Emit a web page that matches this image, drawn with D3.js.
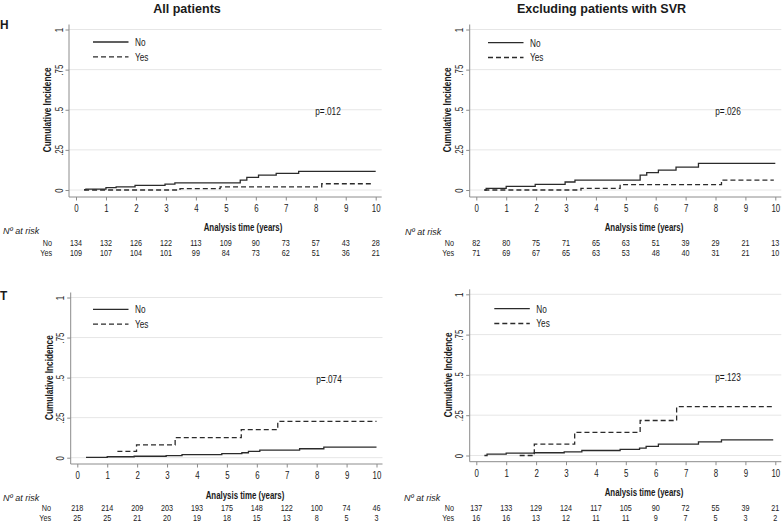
<!DOCTYPE html>
<html>
<head>
<meta charset="utf-8">
<script src="https://cdn.jsdelivr.net/npm/d3@7"></script>
<style>
  html, body { margin: 0; padding: 0; background: #fff; }
  svg { display: block; font-family: "Liberation Sans", Arial, sans-serif; }
</style>
</head>
<body>
<svg id="chart" width="784" height="523"></svg>
<script>
// ---------- DATA ----------
const timeTicks = [0, 1, 2, 3, 4, 5, 6, 7, 8, 9, 10];
const yTickValues = [0, 0.25, 0.5, 0.75, 1];
const yTickLabels = ["0", ".25", ".5", ".75", "1"];
const seriesNames = ["No", "Yes"];
const panelTitles = ["All patients", "Excluding patients with SVR"];
const rowLetters = ["H", "T"];
const pValues = ["p=.012", "p=.026", "p=.074", "p=.123"];

// Panel H, all patients
const hAllNoT  = [0.27, 0.33, 1.0, 1.34, 1.97, 2.97, 3.3, 5.48, 5.7, 6.09, 6.68, 7.43, 10];
const hAllNoV  = [0.002, 0.006, 0.015, 0.02, 0.029, 0.037, 0.045, 0.062, 0.079, 0.093, 0.104, 0.116, 0.116];
const hAllYesT = [0.27, 3.47, 4.81, 8.2, 9.9];
const hAllYesV = [0, 0.008, 0.019, 0.039, 0.039];
const hAllRiskNo  = [134, 132, 126, 122, 113, 109, 90, 73, 57, 43, 28];
const hAllRiskYes = [109, 107, 104, 101, 99, 84, 73, 62, 51, 36, 21];

// Panel H, excluding SVR
const hExNoT  = [0.27, 0.33, 1.0, 1.97, 2.97, 3.3, 5.48, 5.7, 6.09, 6.68, 7.43, 10];
const hExNoV  = [0, 0.010, 0.023, 0.035, 0.05, 0.062, 0.093, 0.108, 0.124, 0.143, 0.166, 0.166];
const hExYesT = [0.27, 3.5, 4.81, 8.2, 9.95];
const hExYesV = [0, 0.010, 0.033, 0.062, 0.062];
const hExRiskNo  = [82, 80, 75, 71, 65, 63, 51, 39, 29, 21, 13];
const hExRiskYes = [71, 69, 67, 65, 63, 53, 48, 40, 31, 21, 10];

// Panel T, all patients
const tAllNoT  = [0.29, 1.0, 1.9, 2.97, 3.5, 4.83, 5.5, 5.72, 6.1, 7.43, 8.24, 10];
const tAllNoV  = [0.002, 0.006, 0.009, 0.013, 0.019, 0.025, 0.031, 0.04, 0.047, 0.056, 0.066, 0.066];
const tAllYesT = [1.34, 1.98, 3.27, 5.48, 6.7, 10];
const tAllYesV = [0.04, 0.08, 0.125, 0.175, 0.227, 0.227];
const tAllRiskNo  = [218, 214, 209, 203, 193, 175, 148, 122, 100, 74, 46];
const tAllRiskYes = [25, 25, 21, 20, 19, 18, 15, 13, 8, 5, 3];

// Panel T, excluding SVR
const tExNoT  = [0.27, 0.36, 1.0, 1.94, 2.94, 3.53, 4.81, 5.46, 5.68, 6.09, 7.43, 8.2, 9.93];
const tExNoV  = [0, 0.008, 0.015, 0.017, 0.023, 0.031, 0.038, 0.046, 0.057, 0.071, 0.084, 0.097, 0.097];
const tExYesT = [1.45, 1.94, 3.29, 5.48, 6.7, 9.93];
const tExYesV = [0, 0.07, 0.144, 0.217, 0.303, 0.303];
const tExRiskNo  = [137, 133, 129, 124, 117, 105, 90, 72, 55, 39, 21];
const tExRiskYes = [16, 16, 13, 12, 11, 11, 9, 7, 5, 3, 2];

// ---------- LAYOUT ----------
const SX = 0.75; // horizontal text compression of the reference
const svg = d3.select("#chart");

const panels = [
  { x0: 76,    x10: 375.7, yZero: 190,   yOne: 29.5,  axisX: 69,    axisY: 197,
    noT: hAllNoT, noV: hAllNoV, yesT: hAllYesT, yesV: hAllYesV, rNo: hAllRiskNo, rYes: hAllRiskYes,
    p: pValues[0], pX: 328, pY: 115, legX: 93, legY: 42, ylabX: 51, xlabX: 243, xlabY: 231,
    riskLabX: 3, rowLabX: 52, riskY: 234, noY: 246, yesY: 255.6, title: panelTitles[0], titleX: 187 },
  { x0: 476.3, x10: 775.3, yZero: 190,   yOne: 29.5,  axisX: 469.7, axisY: 197,
    noT: hExNoT, noV: hExNoV, yesT: hExYesT, yesV: hExYesV, rNo: hExRiskNo, rYes: hExRiskYes,
    p: pValues[1], pX: 728, pY: 115, legX: 488, legY: 42.7, ylabX: 451, xlabX: 644, xlabY: 231,
    riskLabX: 405, rowLabX: 454, riskY: 234.5, noY: 246, yesY: 255.6, title: panelTitles[1], titleX: 601.5 },
  { x0: 77.3,  x10: 376.5, yZero: 457.7, yOne: 297.5, axisX: 70.7,  axisY: 464,
    noT: tAllNoT, noV: tAllNoV, yesT: tAllYesT, yesV: tAllYesV, rNo: tAllRiskNo, rYes: tAllRiskYes,
    p: pValues[2], pX: 329, pY: 383, legX: 93, legY: 309.3, ylabX: 52.5, xlabX: 245, xlabY: 498.5,
    riskLabX: 3, rowLabX: 51, riskY: 500.5, noY: 511, yesY: 520.6 },
  { x0: 476.3, x10: 775.3, yZero: 455.5, yOne: 294.3, axisX: 469.7, axisY: 461.7,
    noT: tExNoT, noV: tExNoV, yesT: tExYesT, yesV: tExYesV, rNo: tExRiskNo, rYes: tExRiskYes,
    p: pValues[3], pX: 728, pY: 381, legX: 494.3, legY: 308.7, ylabX: 451.5, xlabX: 644, xlabY: 496,
    riskLabX: 404, rowLabX: 454, riskY: 500.5, noY: 511, yesY: 520.6 }
];

// helper: text with horizontal compression
function txt(parent, x, y, s, o = {}) {
  const sx = o.sx == null ? SX : o.sx;
  const rot = o.rotate ? `rotate(${o.rotate}) ` : "";
  const g = parent.append("g").attr("transform", `translate(${x},${y}) ${rot}scale(${sx},1)`);
  const t = g.append("text")
    .attr("x", 0).attr("y", 0)
    .attr("text-anchor", o.anchor || "start")
    .attr("font-size", o.size || 10.5)
    .attr("font-weight", o.bold ? "bold" : "normal")
    .attr("font-style", o.italic ? "italic" : "normal")
    .attr("fill", o.fill || "#1a1a1a")
    .text(s);
  if (o.dy) t.attr("dy", o.dy);
  return t;
}

const lineColor = "#2b2b2b";
const axisColor = "#8c8c8c";
const gridColor = "#e6e6e6";
const riskSize = 8.2, riskSX = 0.88;

panels.forEach((P, i) => {
  const g = svg.append("g");
  const x = d3.scaleLinear().domain([0, 10]).range([P.x0, P.x10]);
  const y = d3.scaleLinear().domain([0, 1]).range([P.yZero, P.yOne]);
  const right = P.x10 + 6;

  // gridlines
  g.selectAll(".grid").data(yTickValues).enter().append("line")
    .attr("x1", P.axisX).attr("x2", right)
    .attr("y1", d => y(d)).attr("y2", d => y(d))
    .attr("stroke", gridColor).attr("stroke-width", 1);

  // axis lines
  g.append("line").attr("x1", P.axisX).attr("x2", P.axisX)
    .attr("y1", P.yOne - 5).attr("y2", P.axisY)
    .attr("stroke", axisColor).attr("stroke-width", 1);
  g.append("line").attr("x1", P.axisX).attr("x2", right)
    .attr("y1", P.axisY).attr("y2", P.axisY)
    .attr("stroke", axisColor).attr("stroke-width", 1);

  // x axis ticks
  const xAxis = d3.axisBottom(x).tickValues(timeTicks).tickFormat(d3.format("d"))
    .tickSize(3.5).tickPadding(4);
  const gx = g.append("g").attr("transform", `translate(0,${P.axisY})`).call(xAxis);
  gx.select(".domain").remove();
  gx.selectAll(".tick line").attr("stroke", axisColor);
  gx.selectAll(".tick text")
    .attr("font-size", 10.5).attr("font-family", null).attr("fill", "#1a1a1a")
    .attr("transform", `scale(${SX},1)`);

  // y axis ticks
  const yAxis = d3.axisLeft(y).tickValues(yTickValues)
    .tickFormat((d, k) => yTickLabels[k]).tickSize(3.5);
  const gy = g.append("g").attr("transform", `translate(${P.axisX},0)`).call(yAxis);
  gy.select(".domain").remove();
  gy.selectAll(".tick line").attr("stroke", axisColor);
  gy.selectAll(".tick text")
    .attr("font-size", 10.5).attr("font-family", null).attr("fill", "#1a1a1a")
    .attr("text-anchor", "middle").attr("x", 0).attr("y", -6.5).attr("dy", null)
    .attr("transform", `rotate(-90) scale(${SX},1)`);

  // curves
  const line = d3.line().x(d => x(d[0])).y(d => y(d[1])).curve(d3.curveStepAfter);
  const noData = P.noT.map((t, k) => [t, P.noV[k]]);
  const yesData = P.yesT.map((t, k) => [t, P.yesV[k]]);
  g.append("path").attr("d", line(noData)).attr("fill", "none")
    .attr("stroke", lineColor).attr("stroke-width", 1.3);
  g.append("path").attr("d", line(yesData)).attr("fill", "none")
    .attr("stroke", lineColor).attr("stroke-width", 1.3).attr("stroke-dasharray", "5,3");

  // legend
  const legLen = 35.5;
  [0, 1].forEach(k => {
    const ly = P.legY + k * 14.8;
    const l = g.append("line").attr("x1", P.legX).attr("x2", P.legX + legLen)
      .attr("y1", ly).attr("y2", ly).attr("stroke", lineColor).attr("stroke-width", 1.3);
    if (k === 1) l.attr("stroke-dasharray", "5,3");
    txt(g, P.legX + legLen + 6.5, ly + 3.8, seriesNames[k], { size: 11 });
  });

  // p-value
  txt(g, P.pX, P.pY, P.p, { size: 11, anchor: "middle" });

  // axis titles
  txt(g, P.ylabX, (P.yZero + P.yOne) / 2, "Cumulative Incidence",
      { size: 11, bold: true, anchor: "middle", rotate: -90 });
  txt(g, P.xlabX, P.xlabY, "Analysis time (years)", { size: 10.5, bold: true, anchor: "middle" });

  // risk table
  txt(g, P.riskLabX, P.riskY, "Nº at risk", { size: 9.5, italic: true, sx: 0.95 });
  txt(g, P.rowLabX, P.noY, seriesNames[0], { size: riskSize, anchor: "end", sx: riskSX });
  txt(g, P.rowLabX, P.yesY, seriesNames[1], { size: riskSize, anchor: "end", sx: riskSX });
  timeTicks.forEach((t, k) => {
    txt(g, x(t), P.noY, String(P.rNo[k]), { size: riskSize, anchor: "middle", sx: riskSX });
    txt(g, x(t), P.yesY, String(P.rYes[k]), { size: riskSize, anchor: "middle", sx: riskSX });
  });

  // panel title
  if (P.title) txt(g, P.titleX, 13, P.title, { size: 13.5, bold: true, anchor: "middle", sx: 0.93 });
});

// row letters
txt(svg, 0, 29, rowLetters[0], { size: 12.5, bold: true, sx: 0.95 });
txt(svg, 0, 300, rowLetters[1], { size: 12.5, bold: true, sx: 0.95 });
</script>
</body>
</html>
